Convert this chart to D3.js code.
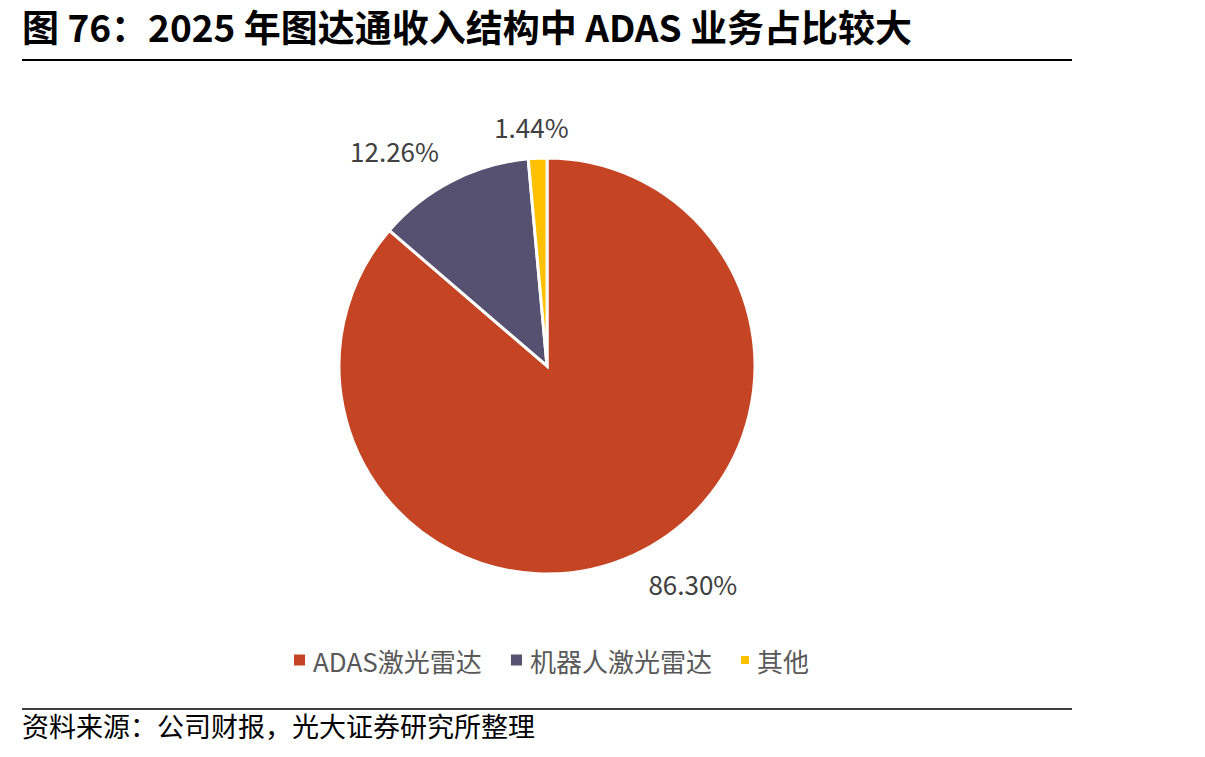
<!DOCTYPE html>
<html>
<head>
<meta charset="utf-8">
<script src="https://cdn.jsdelivr.net/npm/d3@7"></script>
<style>
  body { margin: 0; background: #fff; }
  text { font-family: "Noto Sans CJK SC", "Noto Sans", sans-serif; }
</style>
</head>
<body>
<div id="chart-area"></div>
<script>
var categories = ["ADAS激光雷达", "机器人激光雷达", "其他"];
var shares = [86.30, 12.26, 1.44];
var labels = ["86.30%", "12.26%", "1.44%"];
var colors = ["#C44424", "#565071", "#FFC000"];

var width = 1205, height = 757;
var cx = 547, cy = 366, radius = 208;

var svg = d3.select("#chart-area")
  .append("svg")
  .attr("width", width)
  .attr("height", height);

// Title
svg.append("text")
  .attr("x", 22)
  .attr("y", 42)
  .attr("font-size", "37px")
  .attr("font-weight", "bold")
  .attr("fill", "#000")
  .text("图 76：2025 年图达通收入结构中 ADAS 业务占比较大");

svg.append("line")
  .attr("x1", 22).attr("x2", 1072)
  .attr("y1", 60).attr("y2", 60)
  .attr("stroke", "#000")
  .attr("stroke-width", 2);

var pie = d3.pie().sort(null).value(d => d);
var arc = d3.arc().innerRadius(0).outerRadius(radius);

var g = svg.append("g")
  .attr("transform", "translate(" + cx + "," + cy + ")");

var arcs = pie(shares);

g.selectAll("path")
  .data(arcs)
  .enter()
  .append("path")
  .attr("d", arc)
  .attr("fill", (d, i) => colors[i])
  .attr("stroke", "#fff")
  .attr("stroke-width", 3);

// data labels, nudged a little like Excel's best fit
var labelNudge = [-0.16, -0.14, -0.02];
var labelRadius = [262, 264, 240];
g.selectAll(".lbl")
  .data(arcs)
  .enter()
  .append("text")
  .attr("class", "lbl")
  .attr("x", (d, i) => labelRadius[i] * Math.sin((d.startAngle + d.endAngle) / 2 + labelNudge[i]))
  .attr("y", (d, i) => -labelRadius[i] * Math.cos((d.startAngle + d.endAngle) / 2 + labelNudge[i]))
  .attr("text-anchor", "middle")
  .attr("dominant-baseline", "central")
  .attr("font-size", "26px")
  .attr("fill", "#404040")
  .text((d, i) => labels[i]);

// Legend
var legendX = [294, 511, 741];
var legend = svg.selectAll(".legend")
  .data(categories)
  .enter()
  .append("g")
  .attr("class", "legend")
  .attr("transform", (d, i) => "translate(" + legendX[i] + ",660)");

legend.append("rect")
  .attr("x", 0)
  .attr("y", (d, i) => i == 2 ? -4 : -5.5)
  .attr("width", (d, i) => i == 2 ? 8 : 11)
  .attr("height", (d, i) => i == 2 ? 8 : 11)
  .attr("fill", (d, i) => colors[i]);

legend.append("text")
  .attr("x", (d, i) => i == 2 ? 16 : 19)
  .attr("y", 0)
  .attr("dominant-baseline", "central")
  .attr("font-size", "26px")
  .attr("fill", "#595959")
  .text(d => d);

// Footer
svg.append("line")
  .attr("x1", 22).attr("x2", 1072)
  .attr("y1", 709).attr("y2", 709)
  .attr("stroke", "#000")
  .attr("stroke-width", 1.5);

svg.append("text")
  .attr("x", 22)
  .attr("y", 737)
  .attr("font-size", "27px")
  .attr("fill", "#000")
  .text("资料来源：公司财报，光大证券研究所整理");
</script>
</body>
</html>
